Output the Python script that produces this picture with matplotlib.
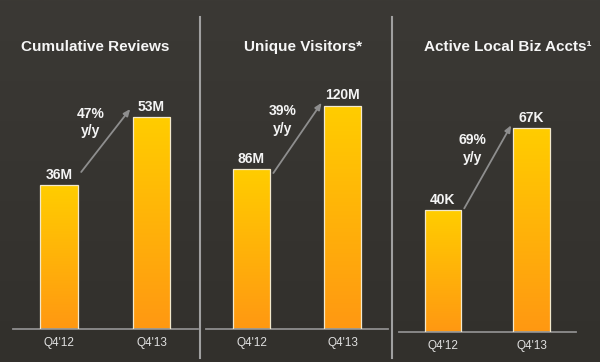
import matplotlib
matplotlib.use("Agg")
import matplotlib.pyplot as plt
import matplotlib.transforms as mtransforms
from matplotlib.lines import Line2D
import numpy as np

plt.rcParams['font.family'] = ['Liberation Sans', 'DejaVu Sans']

# data
titles = ["Cumulative Reviews", "Unique Visitors*", "Active Local Biz Accts\u00b9"]
periods = ["Q4'12", "Q4'13"]
reviews = [36, 53]
visitors = [86, 120]
biz_accts = [40, 67]
value_labels = [["36M", "53M"], ["86M", "120M"], ["40K", "67K"]]
growth = ["47%\ny/y", "39%\ny/y", "69%\ny/y"]
series = [reviews, visitors, biz_accts]

# layout in pixels (left, width, baseline y, px per unit, title centre x)
W, H = 600, 362
panels = [(12.75, 185, 329, 4.0, 95),
          (206, 182, 329, 1.86, 303),
          (398.75, 177, 332, 3.04, 508)]
arrow_off = [(13, 8), (-4, 3), (2, 3)]   # tail / head offset above bar tops (px)
top_px = 17

fig = plt.figure(figsize=(6, 3.62), dpi=100)
fig.patch.set_facecolor('#363430')

# subtle background gradient
bg = fig.add_axes([0, 0, 1, 1], zorder=-10)
grad = np.linspace(0, 1, 256).reshape(-1, 1)
bg_cmap = matplotlib.colors.LinearSegmentedColormap.from_list('bg', ['#3b3935', '#32302c'])
bg.imshow(grad, aspect='auto', cmap=bg_cmap, extent=[0, 1, 0, 1])
bg.axis('off')

bar_cmap = matplotlib.colors.LinearSegmentedColormap.from_list('bar', ['#ff9812', '#ffcd00'])
px = 0.72  # points per pixel

for i, (left, width, base, scale, tx) in enumerate(panels):
    vals = series[i]
    h = base - top_px
    ax = fig.add_axes([left / W, (H - base) / H, width / W, h / H])
    ax.set_facecolor('none')
    for s in ['top', 'right', 'left']:
        ax.spines[s].set_visible(False)
    ax.spines['bottom'].set_color('#8e8e8e')
    ax.spines['bottom'].set_linewidth(1.3)
    ax.set_yticks([])
    ax.set_xticks([0, 1])
    ax.set_xticklabels(periods, color='#e0e0e0', fontsize=8.5)
    ax.tick_params(axis='x', length=0, pad=5.5)

    bars = ax.bar([0, 1], vals, width=0.41, color='none',
                  edgecolor='#f2e8cc', linewidth=0.9, zorder=3)
    for b, v in zip(bars, vals):
        x0 = b.get_x()
        im = ax.imshow(grad, aspect='auto', cmap=bar_cmap,
                       extent=[x0, x0 + b.get_width(), 0, v], origin='lower', zorder=2)
        im.set_clip_path(b)
    ax.set_xlim(-0.5, 1.5)
    ax.set_ylim(0, h / scale)

    for x, v, lab in zip([0, 1], vals, value_labels[i]):
        ax.annotate(lab, (x, v), xytext=(0, 2.5), textcoords='offset points',
                    ha='center', va='bottom', color='#f4f4f4',
                    fontsize=10, fontweight='bold')

    t_off, h_off = arrow_off[i]
    tail_tr = mtransforms.offset_copy(ax.transData, fig=fig, x=0, y=t_off * px, units='points')
    head_tr = mtransforms.offset_copy(ax.transData, fig=fig, x=0, y=h_off * px, units='points')
    ax.annotate('', xy=(0.77, vals[1]), xycoords=head_tr,
                xytext=(0.24, vals[0]), textcoords=tail_tr,
                arrowprops=dict(arrowstyle='-|>,head_length=0.4,head_width=0.17',
                                color='#8e8e8e', lw=1.3, shrinkA=0, shrinkB=0))

    # growth text, up-left of the arrow midpoint
    mid_tr = mtransforms.offset_copy(ax.transData, fig=fig, x=-15 * px,
                                     y=((t_off + h_off) / 2 + 18) * px, units='points')
    ax.text(0.505, (vals[0] + vals[1]) / 2, growth[i], transform=mid_tr,
            ha='center', va='center', color='#f4f4f4', fontsize=10,
            fontweight='bold', linespacing=1.35)

    fig.text(tx / W, 1 - 47 / H, titles[i], ha='center', va='center',
             color='#f6f6f6', fontsize=11, fontweight='bold')

# panel separators
for sx in [200, 392]:
    fig.add_artist(Line2D([sx / W, sx / W], [1 - 17 / H, 1 - 358 / H],
                          color='#a0a0a0', lw=1.5))

fig.savefig('out.png', dpi=100, facecolor=fig.get_facecolor())
